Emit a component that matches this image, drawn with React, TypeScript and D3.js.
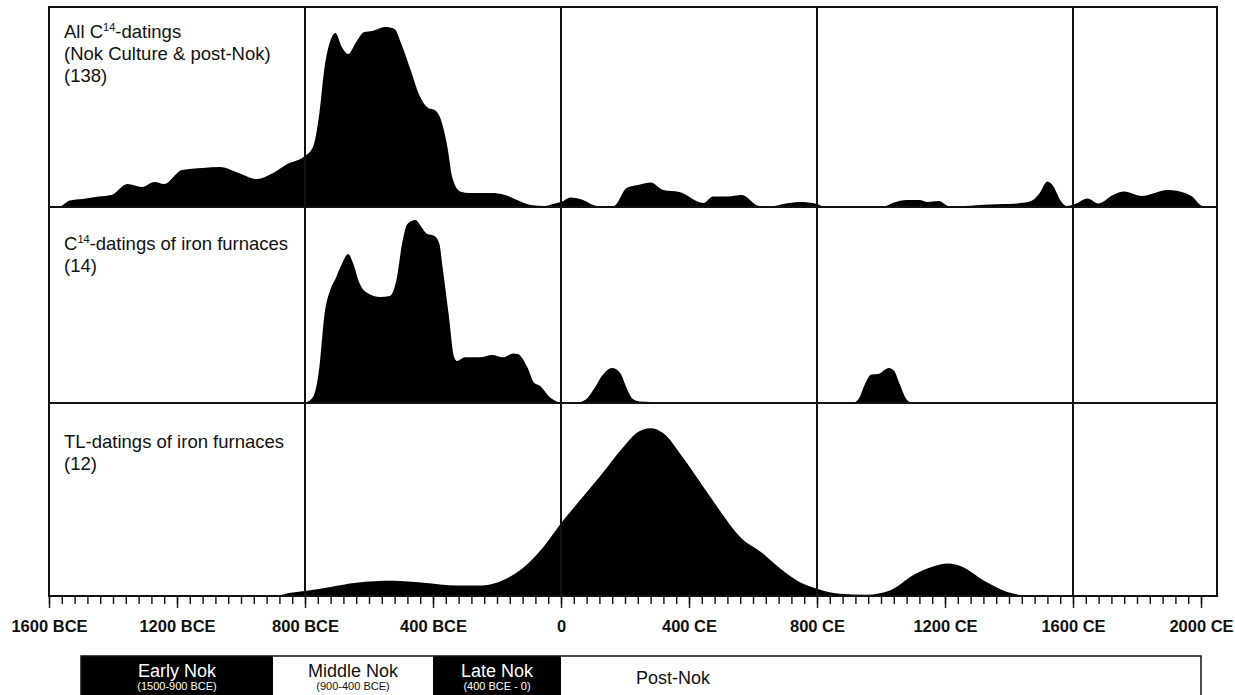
import React, { useEffect, useRef } from "react";
import * as d3 from "d3";

const W = 1235;
const H = 695;

// years: negative = BCE. density: relative probability, % of the panel height
const allC14Years = [-1600, -1570, -1535, -1495, -1445, -1405, -1355, -1310, -1270, -1240, -1185, -1120, -1065, -1015, -950, -900, -855, -805, -775, -755, -740, -720, -705, -685, -665, -640, -615, -590, -550, -520, -500, -470, -440, -415, -395, -375, -355, -340, -315, -285, -255, -220, -175, -130, -95, -50, -25, 0, 30, 60, 115, 165, 205, 240, 280, 320, 370, 445, 475, 520, 565, 620, 665, 695, 745, 800, 820, 1010, 1040, 1080, 1120, 1145, 1180, 1215, 1340, 1425, 1465, 1495, 1520, 1540, 1560, 1580, 1610, 1645, 1680, 1725, 1760, 1815, 1895, 1955, 1970, 2005, 2040];
const allC14Density = [0, 0, 3.2, 4, 5.2, 6, 11.5, 10, 12.5, 11.5, 18.5, 19.5, 20, 17.5, 14, 17, 21.5, 25, 30, 47, 68.5, 83.5, 87, 80, 76.5, 82.5, 87.5, 88, 90, 89, 82, 68.5, 55, 49.5, 48.5, 43.5, 30, 15, 7.8, 7, 7, 7, 6, 3, 1, 0.5, 1.5, 2.5, 4.8, 4, 0.5, 0.5, 9.5, 11, 12.3, 8.5, 7.5, 2, 5.3, 5.3, 6, 0.5, 0.5, 1.5, 2.5, 1.5, 0.3, 0.3, 2.2, 3.5, 3.5, 2.5, 3, 0.3, 1.3, 1.8, 2.7, 6.8, 12.7, 10, 3.5, 0.5, 1.8, 4.3, 1.8, 6, 7.7, 5.5, 8.5, 6.8, 5.5, 0.5, 0];

const furnaceC14Years = [-800, -775, -755, -740, -720, -705, -685, -665, -650, -630, -605, -565, -535, -515, -495, -480, -455, -435, -420, -395, -380, -370, -350, -335, -325, -300, -255, -215, -180, -150, -135, -105, -85, -65, -35, -10, 0, 45, 75, 105, 130, 160, 185, 205, 225, 245, 280, 295, 910, 930, 950, 970, 990, 1025, 1040, 1060, 1075, 1095];
const furnaceC14Density = [0, 3, 18.4, 43.9, 58.2, 63.3, 70.9, 76, 71.4, 61.2, 56.1, 54.1, 54.6, 62.2, 82.7, 91.3, 93.4, 89.6, 86.5, 85.2, 81.1, 69.2, 43.7, 24, 21.4, 23.3, 23.3, 24.5, 23.3, 25.3, 25, 18.2, 10.5, 8.7, 2.9, 0.5, 0, 0, 1.5, 7.7, 14.3, 17.9, 15.3, 7.7, 2, 0.8, 0.5, 0, 0, 2, 9.7, 14.6, 14.8, 17.9, 16.6, 9, 3.1, 0];

const furnaceTLYears = [-970, -890, -845, -795, -720, -640, -525, -430, -325, -245, -180, -120, -55, 0, 60, 120, 195, 235, 280, 320, 380, 445, 495, 560, 630, 685, 745, 800, 870, 955, 1030, 1100, 1165, 1210, 1255, 1320, 1380, 1435, 1455];
const furnaceTLDensity = [0, 0.2, 1.7, 2.7, 4.7, 6.9, 7.9, 6.9, 5.5, 5.5, 8.3, 14.4, 25.4, 37.7, 49.7, 61.7, 77.2, 84.3, 86.9, 84.3, 72, 56.5, 44.6, 30.6, 22.1, 14.2, 7.3, 3.8, 1.2, 0.7, 3, 10.7, 15.4, 16.8, 15, 8.1, 3, 0.5, 0];

// panel titles, "|" marks the superscript part
const panelTitles = [
  ["All C|14|-datings", "(Nok Culture & post-Nok)", "(138)"],
  ["C|14|-datings of iron furnaces", "(14)"],
  ["TL-datings of iron furnaces", "(12)"],
];

const gridYears = [-800, 0, 800, 1600];
const tickYears = [-1600, -1200, -800, -400, 0, 400, 800, 1200, 1600, 2000];
const tickLabels = ["1600 BCE", "1200 BCE", "800 BCE", "400 BCE", "0", "400 CE", "800 CE", "1200 CE", "1600 CE", "2000 CE"];

const phaseNames = ["Early Nok", "Middle Nok", "Late Nok", "Post-Nok"];
const phaseSpans = ["(1500-900 BCE)", "(900-400 BCE)", "(400 BCE - 0)", ""];
const phaseStart = [-1500, -900, -400, 0];
const phaseEnd = [-900, -400, 0, 2000];

const FONT = "'Liberation Sans', Arial, Helvetica, sans-serif";

export default function App() {
  const axisRef = useRef<SVGGElement>(null);

  const x = d3.scaleLinear().domain([-1600, 2050]).range([49, 1217]);
  const rowTop = [7, 207, 403];
  const rowBottom = [207, 403, 596];
  const series = [
    d3.zip(allC14Years, allC14Density),
    d3.zip(furnaceC14Years, furnaceC14Density),
    d3.zip(furnaceTLYears, furnaceTLDensity),
  ];
  const titleTop = [38, 250, 448];

  useEffect(() => {
    const g = d3.select(axisRef.current);
    g.selectAll("*").remove();

    const minor = d3.axisBottom(x)
      .tickValues(d3.range(-1600, 2001, 40))
      .tickSize(8)
      .tickSizeOuter(0)
      .tickFormat(() => "");
    g.append("g").call(minor).call(s => s.select(".domain").remove());

    const major = d3.axisBottom(x)
      .tickValues(tickYears)
      .tickSize(12)
      .tickSizeOuter(0)
      .tickPadding(12)
      .tickFormat((d, i) => tickLabels[i]);
    g.append("g").call(major).call(s => s.select(".domain").remove());

    g.selectAll("line").attr("stroke", "#111").attr("stroke-width", 1.4);
    g.selectAll("text")
      .attr("fill", "#111")
      .style("font-family", FONT)
      .style("font-size", "16.5px")
      .style("font-weight", "bold");
  }, []);

  return (
    <svg width={W} height={H} style={{ position: "absolute", left: 0, top: 0, background: "#fff" }}
      fontFamily={FONT}>
      {series.map((pts, i) => {
        const y = d3.scaleLinear().domain([0, 100]).range([rowBottom[i], rowTop[i]]);
        const area = d3.area<[number, number]>()
          .x(d => x(d[0]))
          .y0(rowBottom[i])
          .y1(d => y(d[1]))
          .curve(d3.curveMonotoneX);
        return <path key={"a" + i} d={area(pts as [number, number][]) || ""} fill="#000" />;
      })}

      {/* grid */}
      {gridYears.map(yr => (
        <line key={"g" + yr} x1={x(yr)} x2={x(yr)} y1={7} y2={596} stroke="#111" strokeWidth={2} />
      ))}
      {[207, 403].map(yy => (
        <line key={"h" + yy} x1={49} x2={1217} y1={yy} y2={yy} stroke="#111" strokeWidth={2} />
      ))}
      <rect x={49} y={7} width={1217 - 49} height={596 - 7} fill="none" stroke="#111" strokeWidth={2} />

      {/* panel titles */}
      {panelTitles.map((lines, i) => (
        <text key={"t" + i} x={64} y={titleTop[i]} fontSize={18.5} fill="#111">
          {lines.map((ln, j) => {
            const parts = ln.split("|");
            return (
              <tspan key={j} x={64} y={titleTop[i] + j * 22}>
                {parts.map((p, k) =>
                  k % 2 === 1 ? (
                    <tspan key={k} fontSize={11} dy={-7}>{p}</tspan>
                  ) : (
                    <tspan key={k} dy={k > 0 ? 7 : 0}>{p}</tspan>
                  )
                )}
              </tspan>
            );
          })}
        </text>
      ))}

      <g ref={axisRef} transform="translate(0,596)" />

      {/* Nok phases */}
      {phaseNames.map((name, i) => {
        const x0 = x(phaseStart[i]);
        const x1 = x(phaseEnd[i]);
        const dark = i % 2 === 0 && i < 3;
        const cx = (x0 + x1) / 2;
        return (
          <g key={"p" + i}>
            <rect x={x0} y={656} width={x1 - x0} height={50} fill={dark ? "#000" : "#fff"} />
            {phaseSpans[i] ? (
              <>
                <text x={cx} y={677} textAnchor="middle" fontSize={18} fill={dark ? "#fff" : "#111"}>{name}</text>
                <text x={cx} y={690} textAnchor="middle" fontSize={11} fill={dark ? "#fff" : "#111"}>{phaseSpans[i]}</text>
              </>
            ) : (
              <text x={x0 + 75} y={684} fontSize={18} fill="#111">{name}</text>
            )}
          </g>
        );
      })}
      <rect x={x(-1500)} y={656} width={x(2000) - x(-1500)} height={50} fill="none" stroke="#111" strokeWidth={1.5} />
    </svg>
  );
}
